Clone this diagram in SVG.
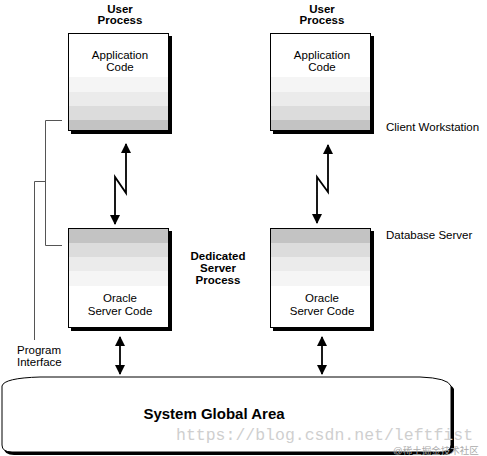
<svg xmlns="http://www.w3.org/2000/svg" width="487" height="456" viewBox="0 0 487 456">
<defs>
<style>
.t{font-family:"Liberation Sans",Arial,sans-serif;font-size:11.5px;fill:#000}
.b{font-weight:bold}
.c{text-anchor:middle}
.frame{fill:none;stroke:#000;stroke-width:1}
.shadow{fill:#000}
.ln{fill:none;stroke:#000;stroke-width:1.8}
.br{fill:none;stroke:#555;stroke-width:1}
.b1{fill:#f5f5f5}.b2{fill:#ebebeb}.b3{fill:#dcdcdc}.b4{fill:#c3c3c3}
</style>
<marker id="ah" viewBox="0 0 10 10" refX="9" refY="5" markerWidth="10" markerHeight="10" markerUnits="userSpaceOnUse" orient="auto-start-reverse">
<path d="M0,0 L10,5 L0,10 Z" fill="#000"/>
</marker>
</defs>

<g id="label-user-left"><text class="t b c" x="120" y="13">User</text><text class="t b c" x="120" y="24">Process</text></g>
<g id="label-user-right"><text class="t b c" x="322" y="13">User</text><text class="t b c" x="322" y="24">Process</text></g>

<g id="app-left">
<rect class="shadow" x="71" y="36" width="101" height="98"/>
<rect x="68" y="33" width="101" height="98" fill="#fff"/>
<rect class="b1" x="68" y="77" width="101" height="15"/>
<rect class="b2" x="68" y="92" width="101" height="14"/>
<rect class="b3" x="68" y="106" width="101" height="14"/>
<rect class="b4" x="68" y="120" width="101" height="11"/>
<rect class="frame" x="68.5" y="33.5" width="100" height="97"/>
<text class="t c" x="120" y="59">Application</text><text class="t c" x="120" y="71">Code</text>
</g>

<g id="app-right">
<rect class="shadow" x="273" y="36" width="101" height="98"/>
<rect x="270" y="33" width="101" height="98" fill="#fff"/>
<rect class="b1" x="270" y="77" width="101" height="15"/>
<rect class="b2" x="270" y="92" width="101" height="14"/>
<rect class="b3" x="270" y="106" width="101" height="14"/>
<rect class="b4" x="270" y="120" width="101" height="11"/>
<rect class="frame" x="270.5" y="33.5" width="100" height="97"/>
<text class="t c" x="322" y="59">Application</text><text class="t c" x="322" y="71">Code</text>
</g>

<g id="server-left">
<rect class="shadow" x="71" y="231" width="101" height="100"/>
<rect x="68" y="228" width="101" height="100" fill="#fff"/>
<rect class="b4" x="68" y="228" width="101" height="15"/>
<rect class="b3" x="68" y="243" width="101" height="14"/>
<rect class="b2" x="68" y="257" width="101" height="14"/>
<rect class="b1" x="68" y="271" width="101" height="15"/>
<rect class="frame" x="68.5" y="228.5" width="100" height="99"/>
<text class="t c" x="120" y="302">Oracle</text><text class="t c" x="120" y="315">Server Code</text>
</g>

<g id="server-right">
<rect class="shadow" x="273" y="231" width="101" height="100"/>
<rect x="270" y="228" width="101" height="100" fill="#fff"/>
<rect class="b4" x="270" y="228" width="101" height="15"/>
<rect class="b3" x="270" y="243" width="101" height="14"/>
<rect class="b2" x="270" y="257" width="101" height="14"/>
<rect class="b1" x="270" y="271" width="101" height="15"/>
<rect class="frame" x="270.5" y="228.5" width="100" height="99"/>
<text class="t c" x="322" y="302">Oracle</text><text class="t c" x="322" y="315">Server Code</text>
</g>

<g id="label-dedicated"><text class="t b c" x="218" y="260">Dedicated</text><text class="t b c" x="218" y="272">Server</text><text class="t b c" x="218" y="284">Process</text></g>
<g id="label-client"><text class="t" x="386" y="131">Client Workstation</text></g>
<g id="label-dbserver"><text class="t" x="386" y="239">Database Server</text></g>
<g id="label-program"><text class="t" x="17" y="354">Program</text><text class="t" x="17" y="366">Interface</text></g>

<g id="sga">
<path class="shadow" d="M4,389 Q6,381 42,380 L422,380 Q450,381 454,389 L454,448 Q454,455 443,455 L14,455 Q4,455 4,448 Z"/>
<path d="M2,386 Q4,378 40,377 L420,377 Q448,378 451,386 L451,445 Q451,452 440,452 L12,452 Q2,452 2,445 Z" fill="#fff" stroke="#000" stroke-width="1"/>
<text class="t b c" x="214" y="419" style="font-size:15px">System Global Area</text>
</g>

<g id="connectors">
<path class="br" d="M62,120.5 H45.5 V245.5 H62"/>
<path class="br" d="M45,181.5 H34.5 V340"/>
<path class="ln" d="M126,144 V193 L115,177 V224" marker-start="url(#ah)" marker-end="url(#ah)"/>
<path class="ln" d="M328,145 V192 L317,177 V223" marker-start="url(#ah)" marker-end="url(#ah)"/>
<path class="ln" d="M120,337 V374" marker-start="url(#ah)" marker-end="url(#ah)"/>
<path class="ln" d="M322,337 V374" marker-start="url(#ah)" marker-end="url(#ah)"/>
</g>

<g id="watermark">
<text x="176" y="440" style="font-family:'Liberation Mono','DejaVu Sans Mono',monospace;font-size:16.5px;fill:#cfcfcf">https://blog.csdn.net/leftfist</text>
<text x="393" y="454" style="font-family:'Liberation Sans','Noto Sans CJK SC',sans-serif;font-size:9.5px;fill:#aaaaaa">@稀土掘金技术社区</text>
</g>
</svg>
